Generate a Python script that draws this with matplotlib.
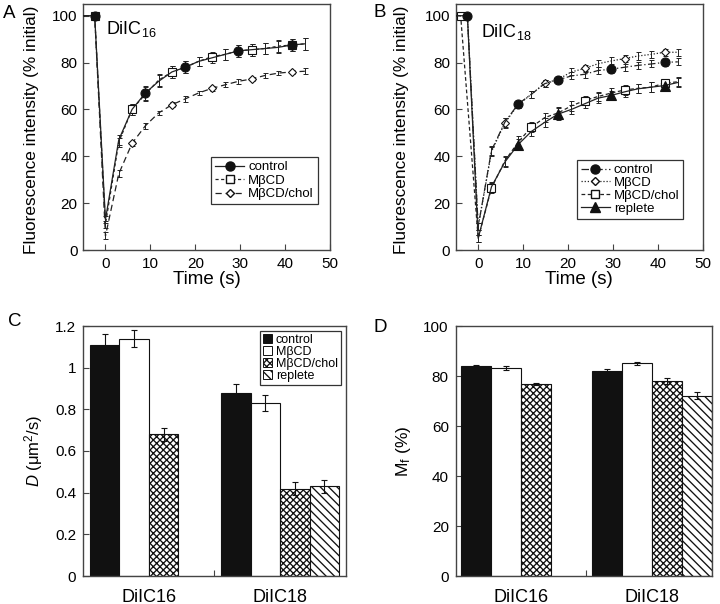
import numpy as np
import matplotlib
matplotlib.use("Agg")
import matplotlib.pyplot as plt
from matplotlib.lines import Line2D
from matplotlib.patches import Patch
from matplotlib.ticker import FuncFormatter

plt.rcParams['font.family'] = ['Liberation Sans', 'DejaVu Sans']
plt.rcParams['hatch.linewidth'] = 0.95
plt.rcParams['mathtext.fontset'] = 'custom'
plt.rcParams['mathtext.rm'] = 'Liberation Sans'
plt.rcParams['mathtext.it'] = 'Liberation Sans:italic'

# ---------------- data ----------------
time = [-5.5, -2.4, 0, 2.96, 5.92, 8.88, 11.84, 14.8, 17.76, 20.72, 23.68,
        26.64, 29.6, 32.56, 35.52, 38.48, 41.44, 44.4]

# Panel A (DiIC16)
a_control = [100, 100, 13, 47, 60, 67, 72, 76, 78, 80.5, 82, 83.5, 85, 85.5, 86, 86.5, 87.5, 88]
a_control_err = [0, 0.5, 1.5, 2, 2.5, 3, 2.5, 2.5, 2.5, 2, 2, 2.5, 2.5, 2.5, 2.5, 2.5, 2.5, 2.5]
a_mbcd = [100, 100, 11, 46, 60, 66.5, 72.5, 76, 78, 80.5, 82.5, 83.5, 85, 85.5, 86, 87, 87.5, 88]
a_mbcd_err = [0, 0.5, 1.5, 2, 2.5, 3, 2.5, 2.5, 2.5, 2, 2, 2.5, 2.5, 2.5, 2.5, 2.5, 2.5, 2.5]
a_chol = [100, 100, 6, 32.5, 45.5, 53, 58.5, 62, 64.5, 67, 69, 70.5, 72, 73, 74.5, 75.5, 76, 76.3]
a_chol_err = [0, 0.5, 1.5, 1.5, 1.2, 1.2, 1, 1, 1.2, 1, 1, 1, 1, 1, 1, 1, 1, 1.2]

# Panel B (DiIC18)
b_control = [100, 100, 10, 42.5, 54.5, 62.3, 66.5, 71, 72.6, 74.3, 75, 76.6, 77.2, 78, 78.8, 79.4, 80.1, 80.3]
b_control_err = [0, 0.5, 1.5, 2, 2, 1.5, 1.5, 1.5, 1.5, 1.5, 1.5, 1.5, 1.5, 1.5, 1.5, 1.5, 1.5, 1.5]
b_mbcd = [100, 100, 10, 42, 54.2, 62, 66.5, 71.2, 72.8, 76, 77.5, 79.5, 80.7, 81.7, 82.8, 83.5, 84.4, 84.4]
b_mbcd_err = [0, 0.5, 1.5, 2, 2, 1.5, 1.5, 1.5, 1.5, 1.5, 1.5, 1.5, 1.5, 1.5, 1.5, 1.5, 1.5, 1.5]
b_chol = [100, 100, 5, 26.5, 38, 46, 52.5, 56.5, 58.5, 61.5, 63.8, 65.5, 67, 68.3, 69, 69.5, 71.2, 71.8]
b_chol_err = [0, 0.5, 1.5, 2, 2, 2.5, 2, 2, 2.5, 2, 2, 2, 2, 2, 2, 2, 2, 2]
b_replete = [100, 100, 5, 27, 37.5, 45, 50.6, 54.5, 58, 60, 62.4, 64.8, 66, 67.5, 68.8, 69.5, 70.2, 71.5]
b_replete_err = [0, 0.5, 1.5, 2, 2, 2.5, 2, 2, 2.5, 2, 2, 2, 2, 2, 2, 2, 2, 2]
b_chol_pre = -3.9

# Panel C (D, um^2/s) and D (Mf, %)
groups = ['DiIC16', 'DiIC18']
treatments = ['control', 'MβCD', 'MβCD/chol', 'replete']
D_vals = [[1.11, 0.88], [1.14, 0.83], [0.68, 0.42], [np.nan, 0.43]]
D_err = [[0.05, 0.04], [0.04, 0.04], [0.03, 0.03], [np.nan, 0.03]]
Mf_vals = [[84.0, 82.0], [83.2, 85.1], [76.8, 78.2], [np.nan, 72.2]]
Mf_err = [[0.6, 0.7], [0.8, 0.7], [0.5, 1.2], [np.nan, 1.3]]

# ---------------- figure ----------------
W, H = 720, 604
fig = plt.figure(figsize=(W / 100, H / 100), dpi=100)

def ax_px(l, r, t, b):
    return fig.add_axes([l / W, 1 - b / H, (r - l) / W, (b - t) / H])

axA = ax_px(83, 330, 4, 250)
axB = ax_px(455.7, 703, 4, 250)
axC = ax_px(83, 346, 326, 576)
axD = ax_px(455.7, 711.7, 326, 576)

spine_c = '#444444'
for ax in (axA, axB, axC, axD):
    for s in ax.spines.values():
        s.set_color(spine_c)
        s.set_linewidth(1.0)
    ax.tick_params(direction='in', length=4, width=0.8, color=spine_c,
                   labelsize=10.5, pad=4)

def draw_series(ax, t, y, e, marker, ls, markidx, ms, mfc):
    ax.errorbar(t, y, yerr=e, fmt='none', ecolor='#222222', elinewidth=0.7,
                capsize=1.8, capthick=0.7, zorder=2)
    ax.plot(t, y, color='#222222', lw=0.9, linestyle=ls, marker=marker,
            markevery=markidx, ms=ms, mfc=mfc, mec='#111111', mew=0.8, zorder=3)

mk_a_ctrl = [1, 5, 8, 12, 16]
mk_sq = [1, 4, 7, 10, 13, 16]
# Panel A
draw_series(axA, time, a_chol, a_chol_err, 'D', (0, (5, 3)), mk_sq, 4.5, 'white')
draw_series(axA, time, a_mbcd, a_mbcd_err, 's', (0, (2.5, 2)), mk_sq, 6, 'white')
draw_series(axA, time, a_control, a_control_err, 'o', '-', mk_a_ctrl, 6.5, '#111111')

# Panel B
t_bchol = [time[0], b_chol_pre] + time[2:]
draw_series(axB, t_bchol, b_chol, b_chol_err, 's', (0, (3, 2)), [1, 3, 6, 10, 13, 16], 6, 'white')
draw_series(axB, time, b_replete, b_replete_err, '^', '-', [5, 8, 12, 16], 6.5, '#111111')
draw_series(axB, time, b_mbcd, b_mbcd_err, 'D', (0, (1, 1.5)), [4, 7, 10, 13, 16], 4.5, 'white')
draw_series(axB, time, b_control, b_control_err, 'o', (0, (6, 2, 1, 2)), [1, 5, 8, 12, 16], 6.5, '#111111')

for ax in (axA, axB):
    ax.set_xlim(-5, 50)
    ax.set_ylim(0, 105)
    ax.set_xticks([0, 10, 20, 30, 40, 50])
    ax.set_yticks([0, 20, 40, 60, 80, 100])
    ax.set_xlabel('Time (s)', fontsize=13.5)
    ax.xaxis.set_label_coords(0.5, -0.085)
    ax.set_ylabel('Fluorescence intensity (% initial)', fontsize=12.4)
    ax.tick_params(axis='both', labelsize=11)
    ax.tick_params(axis='x', pad=5)
axA.yaxis.set_label_coords(-0.18, 0.49)
axB.yaxis.set_label_coords(-0.19, 0.49)

axA.text(0.092, 0.878, 'DiIC$_{16}$', transform=axA.transAxes, fontsize=13, va='baseline')
axB.text(0.102, 0.866, 'DiIC$_{18}$', transform=axB.transAxes, fontsize=13, va='baseline')

hA = [Line2D([], [], color='#222222', lw=0.9, ls='-', marker='o', ms=6.5, mfc='#111111', mec='#111111'),
      Line2D([], [], color='#222222', lw=0.9, ls=(0, (2.5, 2)), marker='s', ms=5.5, mfc='white', mec='#111111'),
      Line2D([], [], color='#222222', lw=0.9, ls=(0, (5, 3)), marker='D', ms=4, mfc='white', mec='#111111')]
legA = axA.legend(hA, ['control', 'MβCD', 'MβCD/chol'], loc='upper right',
                  bbox_to_anchor=(0.951, 0.378), fontsize=9.5, handlelength=2.2,
                  handletextpad=0.3, borderpad=0.3, labelspacing=0.1,
                  fancybox=False, framealpha=1, borderaxespad=0)
legA.get_frame().set_edgecolor('#333333')
legA.get_frame().set_linewidth(0.9)

hB = [Line2D([], [], color='#222222', lw=0.9, ls=(0, (6, 2, 1, 2)), marker='o', ms=6.5, mfc='#111111', mec='#111111'),
      Line2D([], [], color='#222222', lw=0.9, ls=(0, (1, 1.5)), marker='D', ms=4, mfc='white', mec='#111111'),
      Line2D([], [], color='#222222', lw=0.9, ls=(0, (3, 2)), marker='s', ms=5.5, mfc='white', mec='#111111'),
      Line2D([], [], color='#222222', lw=0.9, ls='-', marker='^', ms=6.5, mfc='#111111', mec='#111111')]
legB = axB.legend(hB, ['control', 'MβCD', 'MβCD/chol', 'replete'], loc='upper right',
                  bbox_to_anchor=(0.92, 0.366), fontsize=9.5, handlelength=2.2,
                  handletextpad=0.3, borderpad=0.3, labelspacing=0.05,
                  fancybox=False, framealpha=1, borderaxespad=0)
legB.get_frame().set_edgecolor('#333333')
legB.get_frame().set_linewidth(0.9)

# ---------------- bar panels ----------------
face = ['#111111', 'white', 'white', 'white']
hatch = [None, None, 'xxxxx', '\\\\\\\\']

def bar_panel(ax, vals, errs, gap, right_pad, left_pad):
    starts = [0, 4 + gap]
    for i in range(4):
        xs = [s + i + 0.5 for s in starts]
        ax.bar(xs, vals[i], width=1.0, color=face[i], edgecolor='#111111',
               linewidth=0.8, hatch=hatch[i], zorder=2)
        ax.errorbar(xs, vals[i], yerr=errs[i], fmt='none', ecolor='#111111',
                    elinewidth=0.8, capsize=2.2, capthick=0.8, zorder=3)
    ax.set_xlim(-left_pad, starts[1] + 4 + right_pad)
    ax.set_xticks([s + 2 for s in starts])
    ax.set_xticklabels(groups, fontsize=13)
    ax.tick_params(axis='x', length=0, pad=9)
    ax.set_xticks([(4 + starts[1]) / 2], minor=True)
    ax.tick_params(axis='x', which='minor', direction='in', length=4, width=0.8, color=spine_c)

bar_panel(axC, D_vals, D_err, 0.46, 0.24, 0.24)
axC.set_ylim(0, 1.2)
axC.set_yticks([0, 0.2, 0.4, 0.6, 0.8, 1.0, 1.2])
axC.yaxis.set_major_formatter(FuncFormatter(lambda v, p: '%g' % round(v, 2)))
axC.tick_params(axis='y', labelsize=11, pad=5)
axC.set_ylabel('$\\mathit{D}$ (μm$^{2}$/s)', fontsize=12)
axC.yaxis.set_label_coords(-0.145, 0.5)

bar_panel(axD, Mf_vals, Mf_err, 0.37, 0.0, 0.18)
axD.set_ylim(0, 100)
axD.set_yticks([0, 20, 40, 60, 80, 100])
axD.tick_params(axis='y', labelsize=11, pad=5)
axD.set_ylabel('M$_{\\mathrm{f}}$ (%)', fontsize=12.5)
axD.yaxis.set_label_coords(-0.166, 0.5)

hC = [Patch(facecolor=face[i], edgecolor='#111111', linewidth=0.7, hatch=hatch[i]) for i in range(4)]
legC = axC.legend(hC, treatments, loc='upper right', bbox_to_anchor=(0.981, 0.98),
                  fontsize=9, handlelength=0.7, handleheight=0.7, handletextpad=0.3,
                  borderpad=0.25, labelspacing=0.0, fancybox=False, framealpha=1,
                  borderaxespad=0)
legC.get_frame().set_edgecolor('#333333')
legC.get_frame().set_linewidth(0.9)

# panel letters
for lab, x, y in [('A', 3, 18), ('B', 373, 17), ('C', 8, 326), ('D', 373, 332)]:
    fig.text(x / W, 1 - y / H, lab, fontsize=13.5, va='baseline', ha='left')

fig.savefig('out.png', dpi=100)
